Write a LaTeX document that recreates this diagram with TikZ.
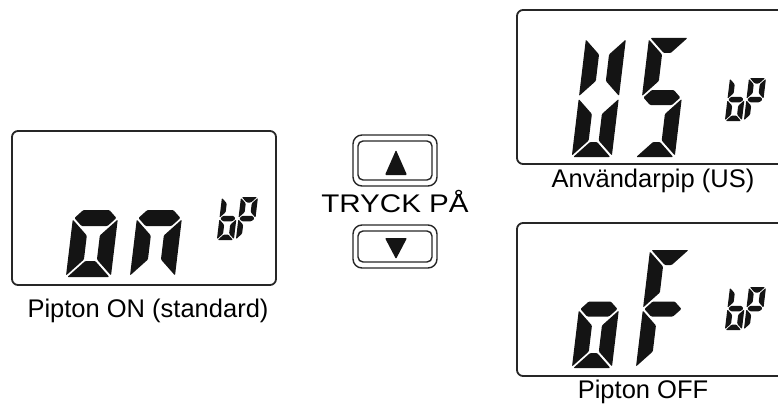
\documentclass[tikz,border=0pt]{standalone}
\usepackage{fontspec}
\setmainfont{Liberation Sans}
\usetikzlibrary{positioning}

% seven segment cells: width, height, thickness, gap
\def\lcdW{40}\def\lcdH{118}\def\lcdT{13}\def\lcdG{1.5}
\newcommand{\lcdsize}[4]{\def\lcdW{#1}\def\lcdH{#2}\def\lcdT{#3}\def\lcdG{#4}}
\newcommand{\sega}{\fill[lcdseg] (\lcdG,0) -- ({\lcdW-\lcdG},0) -- ({\lcdW-\lcdT-\lcdG},\lcdT) -- ({\lcdT+\lcdG},\lcdT) -- cycle;}
\newcommand{\segb}{\fill[lcdseg] (\lcdW,\lcdG) -- ({\lcdW-\lcdT},{\lcdT+\lcdG}) -- ({\lcdW-\lcdT},{\lcdH/2-\lcdT-\lcdG}) -- (\lcdW,{\lcdH/2-\lcdG}) -- cycle;}
\newcommand{\segc}{\fill[lcdseg] (\lcdW,{\lcdH/2+\lcdG}) -- ({\lcdW-\lcdT},{\lcdH/2+\lcdT+\lcdG}) -- ({\lcdW-\lcdT},{\lcdH-\lcdT-\lcdG}) -- (\lcdW,{\lcdH-\lcdG}) -- cycle;}
\newcommand{\segd}{\fill[lcdseg] (\lcdG,\lcdH) -- ({\lcdW-\lcdG},\lcdH) -- ({\lcdW-\lcdT-\lcdG},{\lcdH-\lcdT}) -- ({\lcdT+\lcdG},{\lcdH-\lcdT}) -- cycle;}
\newcommand{\sege}{\fill[lcdseg] (0,{\lcdH/2+\lcdG}) -- (\lcdT,{\lcdH/2+\lcdT+\lcdG}) -- (\lcdT,{\lcdH-\lcdT-\lcdG}) -- (0,{\lcdH-\lcdG}) -- cycle;}
\newcommand{\segf}{\fill[lcdseg] (0,\lcdG) -- (\lcdT,{\lcdT+\lcdG}) -- (\lcdT,{\lcdH/2-\lcdT-\lcdG}) -- (0,{\lcdH/2-\lcdG}) -- cycle;}
\newcommand{\segg}{\fill[lcdseg] (\lcdG,{\lcdH/2}) -- ({\lcdG+\lcdT/2},{\lcdH/2-\lcdT/2}) -- ({\lcdW-\lcdG-\lcdT/2},{\lcdH/2-\lcdT/2}) -- ({\lcdW-\lcdG},{\lcdH/2}) -- ({\lcdW-\lcdG-\lcdT/2},{\lcdH/2+\lcdT/2}) -- ({\lcdG+\lcdT/2},{\lcdH/2+\lcdT/2}) -- cycle;}
\newcommand{\lcddigit}[3]{%
  \begin{scope}[shift={(#1,#2)},xslant=0.12]
    \foreach \s in {#3} {\csname seg\s\endcsname}
  \end{scope}}

\begin{document}
\begin{tikzpicture}[x=1pt,y=-1pt,
        panel/.style={draw=black!85, line width=1.8pt, rounded corners=6pt},
        btn/.style={draw=black!85, line width=1.4pt},
        lcdseg/.style={fill=black!92, rounded corners=1pt},
        lbl/.style={font=\fontsize{25.5}{30}\selectfont, inner sep=0pt}]
    \useasboundingbox (0,0) rectangle (778,404);
    \clip (0,0) rectangle (778,404);

    % displays
    \draw[panel] (12,131) rectangle (276,285);
    \draw[panel] (517,10) rectangle (790,164);
    \draw[panel] (517,223) rectangle (790,376);

    % pipton on
    \lcdsize{45}{118}{16}{1.5}
    \lcddigit{80}{159}{g,c,d,e}
    \lcddigit{144}{159}{g,c,e}
    \lcdsize{17}{43}{5.5}{0.8}
    \lcddigit{222}{197}{c,d,e,f,g}
    \lcddigit{241}{197}{a,b,e,f,g}

    % anvandarpip
    \lcdsize{40}{119}{15}{1.5}
    \lcddigit{586}{38}{b,c,d,e,f}
    \lcddigit{649}{38}{a,f,g,c,d}
    \lcdsize{17}{43}{5.5}{0.8}
    \lcddigit{730}{78}{c,d,e,f,g}
    \lcddigit{749}{78}{a,b,e,f,g}

    % pipton off
    \lcdsize{40}{118}{15}{1.5}
    \lcddigit{586}{250}{g,c,d,e}
    \lcddigit{650}{250}{a,f,g,e}
    \lcdsize{17}{43}{5.5}{0.8}
    \lcddigit{730}{287}{c,d,e,f,g}
    \lcddigit{749}{287}{a,b,e,f,g}

    % buttons
    \draw[btn, rounded corners=9pt] (353,135) rectangle (437,186);
    \draw[btn, rounded corners=5pt] (358,141) rectangle (432,180);
    \fill[lcdseg] (385,175) -- (407,175) -- (396,150) -- cycle;
    \draw[btn, rounded corners=9pt] (353,225) rectangle (437,268);
    \draw[btn, rounded corners=5pt] (358,231) rectangle (432,262);
    \fill[lcdseg] (385,238) -- (407,238) -- (396,259) -- cycle;

    \node[lbl, anchor=base] (press) at (395,212) {\scalebox{1.16}[1]{TRYCK PÅ}};
    \node[lbl, anchor=base] (onlabel) at (148,317) {Pipton ON (standard)};
    \node[lbl, anchor=base] (uslabel) at (653,187) {Användarpip (US)};
    \node[lbl, anchor=base] (offlabel) at (643,398) {Pipton OFF};
\end{tikzpicture}
\end{document}
